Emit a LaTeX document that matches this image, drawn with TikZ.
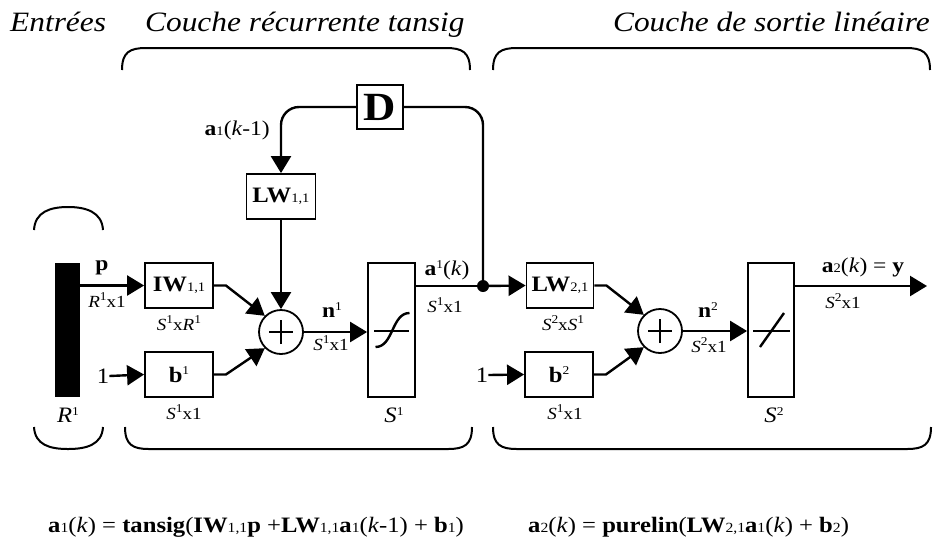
\documentclass[tikz,border=0pt]{standalone}
\usepackage{fontspec}
\setmainfont[FakeStretch=1.12]{Liberation Serif}
\usetikzlibrary{arrows.meta}
\newcommand{\ix}[1]{{\fontsize{13}{13}\selectfont #1}}
\newcommand{\ex}[1]{{\fontsize{14}{14}\selectfont #1}}
\newcommand{\rx}[1]{\raisebox{0.35em}{\fontsize{12}{12}\selectfont #1}}
\newcommand{\dx}[1]{\raisebox{0.4em}{\fontsize{12}{12}\selectfont #1}}
\begin{document}
\begin{tikzpicture}[x=1pt,y=-1pt,
  box/.style={draw, line width=1.8pt, inner sep=0pt, minimum width=68pt, minimum height=45pt, font=\fontsize{22}{22}\selectfont},
  tfbox/.style={draw, line width=1.8pt, inner sep=0pt, minimum width=47pt, minimum height=134pt},
  sumnode/.style={circle, draw, line width=1.8pt, minimum size=44pt, inner sep=0pt},
  wire/.style={line width=2.4pt},
  arr/.style={wire, -{Triangle[length=17pt,width=20pt]}},
  lbl/.style={font=\fontsize{21}{21}\selectfont, inner sep=0pt},
  dim/.style={font=\fontsize{17}{17}\selectfont, inner sep=0pt},
  big/.style={font=\fontsize{22}{22}\selectfont, inner sep=0pt},
  title/.style={font=\fontsize{28}{28}\selectfont\itshape, inner sep=0pt},
  eq/.style={font=\fontsize{22}{22}\selectfont, inner sep=0pt},
  brace/.style={line width=2pt}
]
\useasboundingbox (0,0) rectangle (941,539);

% titles
\node[title, anchor=base west] (t1) at (10,31) {Entrées};
\node[title, anchor=base west] (t2) at (145,31) {Couche récurrente tansig};
\node[title, anchor=base east] (t3) at (930,31) {Couche de sortie linéaire};

% braces
\draw[brace] (122,70) .. controls (122,52) and (130,48) .. (146,48) -- (446,48) .. controls (462,48) and (470,52) .. (470,70);
\draw[brace] (493,70) .. controls (493,52) and (501,48) .. (517,48) -- (906,48) .. controls (922,48) and (930,52) .. (930,70);
\draw[brace] (34,230) .. controls (35,212) and (50,207) .. (68,207) .. controls (86,207) and (102,212) .. (103,230);
\draw[brace] (34,427) .. controls (35,445) and (50,449) .. (68,449) .. controls (86,449) and (102,445) .. (103,427);
\draw[brace] (125,427) .. controls (125,445) and (133,449) .. (149,449) -- (448,449) .. controls (464,449) and (472,445) .. (472,427);
\draw[brace] (493,427) .. controls (493,445) and (501,449) .. (517,449) -- (907,449) .. controls (923,449) and (931,445) .. (931,427);

% input bar
\node[fill=black, inner sep=0pt, minimum width=25pt, minimum height=134pt] (bar) at (67.5,330) {};
\node[big] (R1) at (68,415) {\textit{R}\rx{1}};

% layer 1
\node[box] (iw) at (179,285.5) {\textbf{IW}\ix{1,1}};
\node[box] (b1) at (179,374.5) {\textbf{b}\rx{1}};
\node[box, minimum width=69pt] (lw11) at (281,196.5) {\textbf{LW}\ix{1,1}};
\node[draw, line width=1.8pt, inner sep=0pt, minimum width=46pt, minimum height=44pt, font=\fontsize{40}{40}\selectfont\bfseries] (D) at (380,107) {D};
\node[sumnode] (s1) at (281,332) {};
\draw[line width=2pt] ([xshift=-12pt]s1.center) -- ([xshift=12pt]s1.center);
\draw[line width=2pt] ([yshift=-12pt]s1.center) -- ([yshift=12pt]s1.center);
\node[tfbox] (tf1) at (391.5,330) {};
\begin{scope}[shift={(tf1.center)}]
\draw[line width=1.5pt] (-17.5,1) -- (17.5,1);
\draw[line width=2.4pt] (-16,17) .. controls (2,17) and (0,-17) .. (18,-17);
\end{scope}
\node[big] (S1) at (394,415) {\textit{S}\rx{1}};
\node[big] (one1) at (103,376) {1};
\node[fill=black, circle, inner sep=0pt, minimum size=12pt] (dot) at (483,286) {};

% layer 2
\node[box, minimum width=67pt] (lw21) at (560,285.5) {\textbf{LW}\ix{2,1}};
\node[box] (b2) at (559,374.5) {\textbf{b}\rx{2}};
\node[sumnode] (s2) at (660,331) {};
\draw[line width=2pt] ([xshift=-12pt]s2.center) -- ([xshift=12pt]s2.center);
\draw[line width=2pt] ([yshift=-12pt]s2.center) -- ([yshift=12pt]s2.center);
\node[tfbox, minimum width=46pt] (tf2) at (771,330) {};
\begin{scope}[shift={(tf2.center)}]
\draw[line width=1.5pt] (-18,1) -- (19,1);
\draw[line width=2.4pt] (-11,17) -- (13,-17);
\end{scope}
\node[big] (S2) at (774,415) {\textit{S}\rx{2}};
\node[big] (one2) at (482,375) {1};
\coordinate (out) at (927,286);

% connectors
\draw[arr] (bar.east |- iw.west) -- (iw.west);
\draw[arr] (one1.east) -- (b1.west);
\draw[arr] (iw.east) -- ++(12,0) -- (s1.135);
\draw[arr] (b1.east) -- ++(12,0) -- (s1.225);
\draw[arr] (lw11.south) -- (s1.north);
\draw[arr] (s1.east) -- (s1.east -| tf1.west);
\draw[wire] (tf1.east |- dot) -- (dot.center);
\draw[arr] (dot.center) -- (lw21.west);
\draw[wire, rounded corners=18pt] (dot.center) -- (dot |- D.east) -- (D.east);
\draw[arr, rounded corners=18pt] (D.west) -- (lw11.north |- D.west) -- (lw11.north);
\draw[arr] (one2.east) -- (b2.west);
\draw[arr] (lw21.east) -- ++(12,0) -- (s2.135);
\draw[arr] (b2.east) -- ++(12,0) -- (s2.225);
\draw[arr] (s2.east) -- (s2.east -| tf2.west);
\draw[arr] (tf2.east |- out) -- (out);

% labels
\node[lbl] (lp) at (102,268) {\textbf{p}};
\node[dim] (dp) at (107,300) {\textit{R}\dx{1}x1};
\node[dim] (diw) at (179,323) {\textit{S}\dx{1}x\textit{R}\dx{1}};
\node[dim] (db1) at (184,412) {\textit{S}\dx{1}x1};
\node[lbl] (ln1) at (332,310) {\textbf{n}\rx{1}};
\node[dim] (dn1) at (331,343) {\textit{S}\dx{1}x1};
\node[lbl] (la1) at (447,270) {\textbf{a}\rx{1}(\textit{k})};
\node[dim] (da1) at (445,305) {\textit{S}\dx{1}x1};
\node[lbl, anchor=base east] (lak) at (270,135) {\textbf{a}\ix{1}(\textit{k}-1)};
\node[dim] (dlw21) at (563,323) {\textit{S}\dx{2}x\textit{S}\dx{1}};
\node[dim] (db2) at (565,412) {\textit{S}\dx{1}x1};
\node[lbl] (ln2) at (708,310) {\textbf{n}\rx{2}};
\node[dim] (dn2) at (709,345) {\textit{S}\dx{2}x1};
\node[lbl] (la2) at (863,267) {\textbf{a}\ix{2}(\textit{k}) = \textbf{y}};
\node[dim] (da2) at (843,301) {\textit{S}\dx{2}x1};

% equations
\node[eq, anchor=base west] (eq1) at (48,532) {\textbf{a}\ex{1}(\textit{k}) = \textbf{tansig}(\textbf{IW}\ex{1,1}\textbf{p} +\textbf{LW}\ex{1,1}\textbf{a}\ex{1}(\textit{k}-1) + \textbf{b}\ex{1})};
\node[eq, anchor=base west] (eq2) at (528,532) {\textbf{a}\ex{2}(\textit{k}) = \textbf{purelin}(\textbf{LW}\ex{2,1}\textbf{a}\ex{1}(\textit{k}) + \textbf{b}\ex{2})};
\end{tikzpicture}
\end{document}
